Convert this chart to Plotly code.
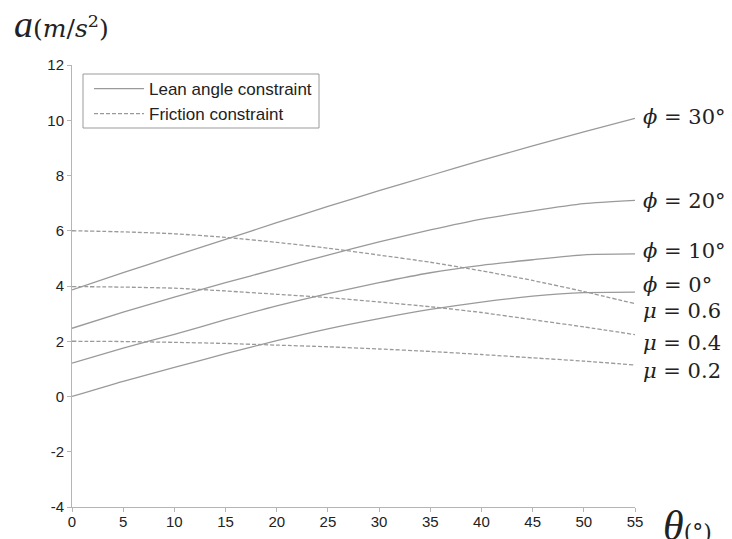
import plotly.graph_objects as go

# ---------------- data ----------------
theta = [0, 5, 10, 15, 20, 25, 30, 35, 40, 45, 50, 55]

lean_phi30 = [3.86, 4.48, 5.09, 5.69, 6.29, 6.88, 7.45, 8.00, 8.55, 9.07, 9.58, 10.07]
lean_phi20 = [2.47, 3.05, 3.60, 4.12, 4.62, 5.12, 5.60, 6.03, 6.42, 6.72, 6.98, 7.10]
lean_phi10 = [1.21, 1.75, 2.25, 2.78, 3.28, 3.72, 4.12, 4.48, 4.75, 4.95, 5.13, 5.16]
lean_phi0 = [0.00, 0.55, 1.05, 1.55, 2.02, 2.45, 2.82, 3.15, 3.42, 3.63, 3.76, 3.78]

fric_mu06 = [6.00, 5.96, 5.89, 5.76, 5.58, 5.37, 5.12, 4.86, 4.55, 4.20, 3.80, 3.36]
fric_mu04 = [3.98, 3.96, 3.92, 3.82, 3.70, 3.58, 3.42, 3.25, 3.04, 2.78, 2.52, 2.24]
fric_mu02 = [2.00, 1.99, 1.96, 1.92, 1.86, 1.80, 1.72, 1.63, 1.52, 1.40, 1.28, 1.14]

lean_series = [lean_phi30, lean_phi20, lean_phi10, lean_phi0]
fric_series = [fric_mu06, fric_mu04, fric_mu02]

curve_labels = ["<i>ϕ</i> = 30°", "<i>ϕ</i> = 20°", "<i>ϕ</i> = 10°", "<i>ϕ</i> = 0°",
                "<i>μ</i> = 0.6", "<i>μ</i> = 0.4", "<i>μ</i> = 0.2"]
label_y = [10.1, 7.08, 5.26, 4.04, 3.09, 1.93, 0.94]

x_ticks = [0, 5, 10, 15, 20, 25, 30, 35, 40, 45, 50, 55]
y_ticks = [-4, -2, 0, 2, 4, 6, 8, 10, 12]

# ---------------- figure ----------------
LINE_COLOR = "#9a9a9a"
SANS = "Liberation Sans, Arial, sans-serif"
SERIF = "Liberation Serif, Times New Roman, serif"
WIDE_SERIF = "DejaVu Serif, serif"

fig = go.Figure()

for i, ys in enumerate(lean_series):
    fig.add_trace(go.Scatter(
        x=theta, y=ys, mode="lines",
        line=dict(color=LINE_COLOR, width=1.3, shape="spline", smoothing=0.6),
        name="Lean angle constraint", legendgroup="lean",
        showlegend=(i == 0),
    ))

for i, ys in enumerate(fric_series):
    fig.add_trace(go.Scatter(
        x=theta, y=ys, mode="lines",
        line=dict(color=LINE_COLOR, width=1.3, dash="4px,2px", shape="spline", smoothing=0.6),
        name="Friction constraint", legendgroup="fric",
        showlegend=(i == 0),
    ))

# curve labels at the right end
for txt, yv in zip(curve_labels, label_y):
    fig.add_annotation(
        x=55, y=yv, xref="x", yref="y", text=txt, showarrow=False,
        xanchor="left", yanchor="middle", xshift=6,
        font=dict(family=WIDE_SERIF, size=21, color="#222"),
    )

# plot area in pixels
L, R, T, B = 72, 97, 65, 32
W, H = 732, 539
pw, ph = W - L - R, H - T - B


def px2paper(X, Y):
    return (X - L) / pw, (H - B - Y) / ph


# y-axis title a(m/s^2)
ax, ay = px2paper(12, 24)
fig.add_annotation(
    x=ax, y=ay, xref="paper", yref="paper", showarrow=False,
    xanchor="left", yanchor="middle",
    text="<i>a</i><span style='font-family:DejaVu Serif;font-size:25px'>(<i>m</i>/<i>s</i><sup>2</sup>)</span>",
    font=dict(family=SERIF, size=38, color="#222"),
)

# x-axis title θ(°)
tx, ty = px2paper(661, 526)
fig.add_annotation(
    x=tx, y=ty, xref="paper", yref="paper", showarrow=False,
    xanchor="left", yanchor="middle",
    text="<i>θ</i><span style='font-family:DejaVu Serif;font-size:22px'>(°)</span>",
    font=dict(family=SERIF, size=42, color="#222"),
)

# legend frame
bx0, by0 = px2paper(83, 74)
bx1, by1 = px2paper(319, 128)
fig.add_shape(
    type="rect", xref="paper", yref="paper",
    x0=bx0, y0=by1, x1=bx1, y1=by0,
    line=dict(color="#9a9a9a", width=1), fillcolor="white", layer="above",
)

lx, ly = px2paper(89, 71)
fig.update_layout(
    template="none",
    width=W, height=H,
    margin=dict(l=L, r=R, t=T, b=B, pad=0),
    paper_bgcolor="white", plot_bgcolor="white",
    showlegend=True,
    hovermode=False,
    legend=dict(
        x=lx, y=ly, xanchor="left", yanchor="top",
        bgcolor="rgba(0,0,0,0)", borderwidth=0,
        font=dict(family=SANS, size=17, color="#222"),
        itemwidth=50, tracegroupgap=0,
    ),
    xaxis=dict(
        range=[0, 55], tickvals=x_ticks, ticktext=[str(v) for v in x_ticks],
        showgrid=False, zeroline=False, automargin=False,
        showline=True, linecolor="#b5b5b5", linewidth=1,
        ticks="outside", ticklen=4, tickcolor="#b5b5b5",
        ticklabelstandoff=-3,
        tickfont=dict(family=SANS, size=15, color="#222"),
    ),
    yaxis=dict(
        range=[-4, 12], tickvals=y_ticks, ticktext=[str(v) for v in y_ticks],
        showgrid=False, zeroline=False, automargin=False,
        showline=True, linecolor="#b5b5b5", linewidth=1,
        ticks="outside", ticklen=4, tickcolor="#b5b5b5",
        tickfont=dict(family=SANS, size=15, color="#222"),
    ),
)

fig.write_html(
    "out.html",
    config={"displayModeBar": False},
    post_script="document.body.style.margin='0';document.documentElement.style.overflow='hidden';",
)
